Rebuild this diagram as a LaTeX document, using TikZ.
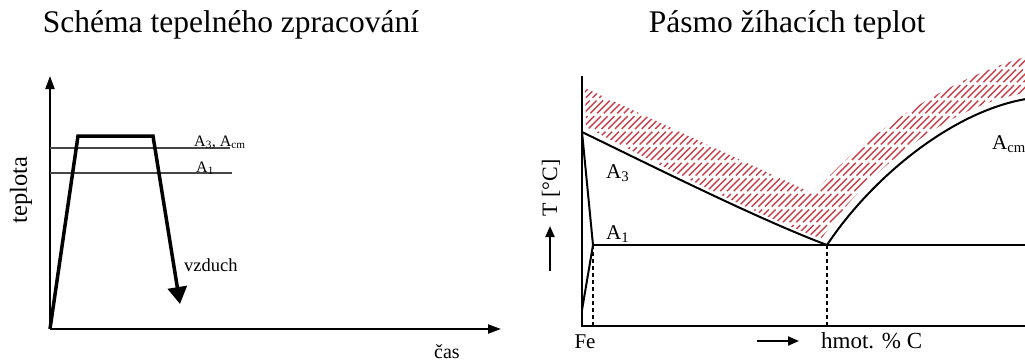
\documentclass[tikz,border=0pt]{standalone}
\usepackage{fontspec}
\setmainfont{Liberation Serif}
\usetikzlibrary{arrows.meta}
\definecolor{hatchred}{RGB}{200,65,75}
\definecolor{lgray}{RGB}{70,70,70}
\tikzset{
  axis/.style={line width=2pt, black},
  thin line/.style={line width=1.6pt, lgray},
  curve/.style={line width=2pt, black},
  profile/.style={line width=3.5pt, black, line join=miter},
  dline/.style={line width=1.2pt, black, dash pattern=on 4pt off 3pt},
  hatch/.style={line width=1.4pt, hatchred, dash pattern=on 18pt off 4pt},
  lbl/.style={inner sep=0pt, anchor=base},
}
\begin{document}
\begin{tikzpicture}[x=1pt,y=-1pt]
\useasboundingbox (0,0) rectangle (1025,362);
% titles
\node[lbl, font=\fontsize{31.5}{32}\selectfont] (t1) at (231,32) {Schéma tepelného zpracování};
\node[lbl, font=\fontsize{31.5}{32}\selectfont] (t2) at (787,32) {Pásmo žíhacích teplot};

% ---------------- left chart ----------------
\coordinate (O1) at (50,329);
\coordinate (Ytop) at (50,76);
\coordinate (Xend) at (501,329);
\draw[axis, -{Triangle[length=13pt,width=9pt]}] (O1) -- (Ytop);
\draw[axis, -{Triangle[length=13pt,width=9pt]}] (O1) -- (Xend);
\coordinate (A3l) at (50,148); \coordinate (A3r) at (230,148);
\coordinate (A1l) at (50,173); \coordinate (A1r) at (232,173);
\draw[thin line] (A3l) -- (A3r);
\draw[thin line] (A1l) -- (A1r);
\coordinate (P1) at (78,136); \coordinate (P2) at (153,136); \coordinate (P3) at (180,304);
\draw[profile, -{Triangle[length=17pt,width=19pt]}] (O1) -- (P1) -- (P2) -- (P3);
\node[lbl, anchor=base west, font=\fontsize{16}{16}\selectfont] (la3) at (194,146) {A\textsubscript{3}, A\textsubscript{cm}};
\node[lbl, anchor=base west, font=\fontsize{16}{16}\selectfont] (la1) at (196,172) {A\textsubscript{1}};
\node[lbl, anchor=base west, font=\fontsize{18.5}{19}\selectfont] (vz) at (184,271) {vzduch};
\node[inner sep=0pt, rotate=90, font=\fontsize{24.5}{25}\selectfont] (tep) at (21,190) {teplota};
\node[lbl, font=\fontsize{20}{20}\selectfont] (cas) at (447,358) {čas};

% ---------------- right chart ----------------
% hatching
\begin{scope}
\clip (585,88) -- (814,194) .. controls (848,150) and (930,85) .. (1025,57)
  -- (1025,93) .. controls (945,106) and (864,175) .. (822,238)
  -- (817,237) .. controls (750,212) and (650,160) .. (586,127) -- cycle;
\foreach \i in {0,...,110} {
  \draw[hatch] ({330+\i*6.7},300) -- ({590+\i*6.7},40);
}
\end{scope}
\coordinate (O2) at (582,326);
\coordinate (Y2) at (582,76);
\coordinate (X2) at (1025,326);
\coordinate (Ptop) at (582,132);
\coordinate (Pa) at (593,245);
\coordinate (Pb) at (582,310);
\coordinate (E) at (827,245);
\coordinate (R) at (1025,245);
\coordinate (Acmend) at (1026,99);
\draw[axis] (Y2) -- (O2) -- (X2);
\draw[curve, line join=miter] (Ptop) -- (Pa) -- (Pb);
\draw[curve] (Ptop) .. controls (650,165) and (760,220) .. (E);
\draw[curve] (E) .. controls (870,180) and (950,112) .. (Acmend);
\draw[line width=1.8pt] (Pa) -- (R);
\draw[dline] (Pa) -- (593,326);
\draw[dline] (E) -- (827,326);
\node[lbl, anchor=base west, font=\fontsize{21}{21}\selectfont] (ra3) at (606,178) {A\textsubscript{3}};
\node[lbl, anchor=base west, font=\fontsize{21}{21}\selectfont] (ra1) at (606,239) {A\textsubscript{1}};
\node[lbl, anchor=base west, font=\fontsize{21}{21}\selectfont] (racm) at (992,149) {A\textsubscript{cm}};
\node[lbl, font=\fontsize{21}{21}\selectfont] (fe) at (585,348) {Fe};
\node[lbl, anchor=base west, font=\fontsize{23}{23}\selectfont] (hm) at (821,348) {hmot. \% C};
\coordinate (ha) at (757,341); \coordinate (hb) at (799,341);
\draw[line width=2pt, -{Triangle[length=11pt,width=9pt]}] (ha) -- (hb);
\coordinate (va) at (550,271); \coordinate (vb) at (550,226);
\draw[line width=2pt, -{Triangle[length=11pt,width=9pt]}] (va) -- (vb);
\node[inner sep=0pt, rotate=90, font=\fontsize{22}{22}\selectfont] (Tc) at (551,188) {T [°C]};
\end{tikzpicture}
\end{document}
